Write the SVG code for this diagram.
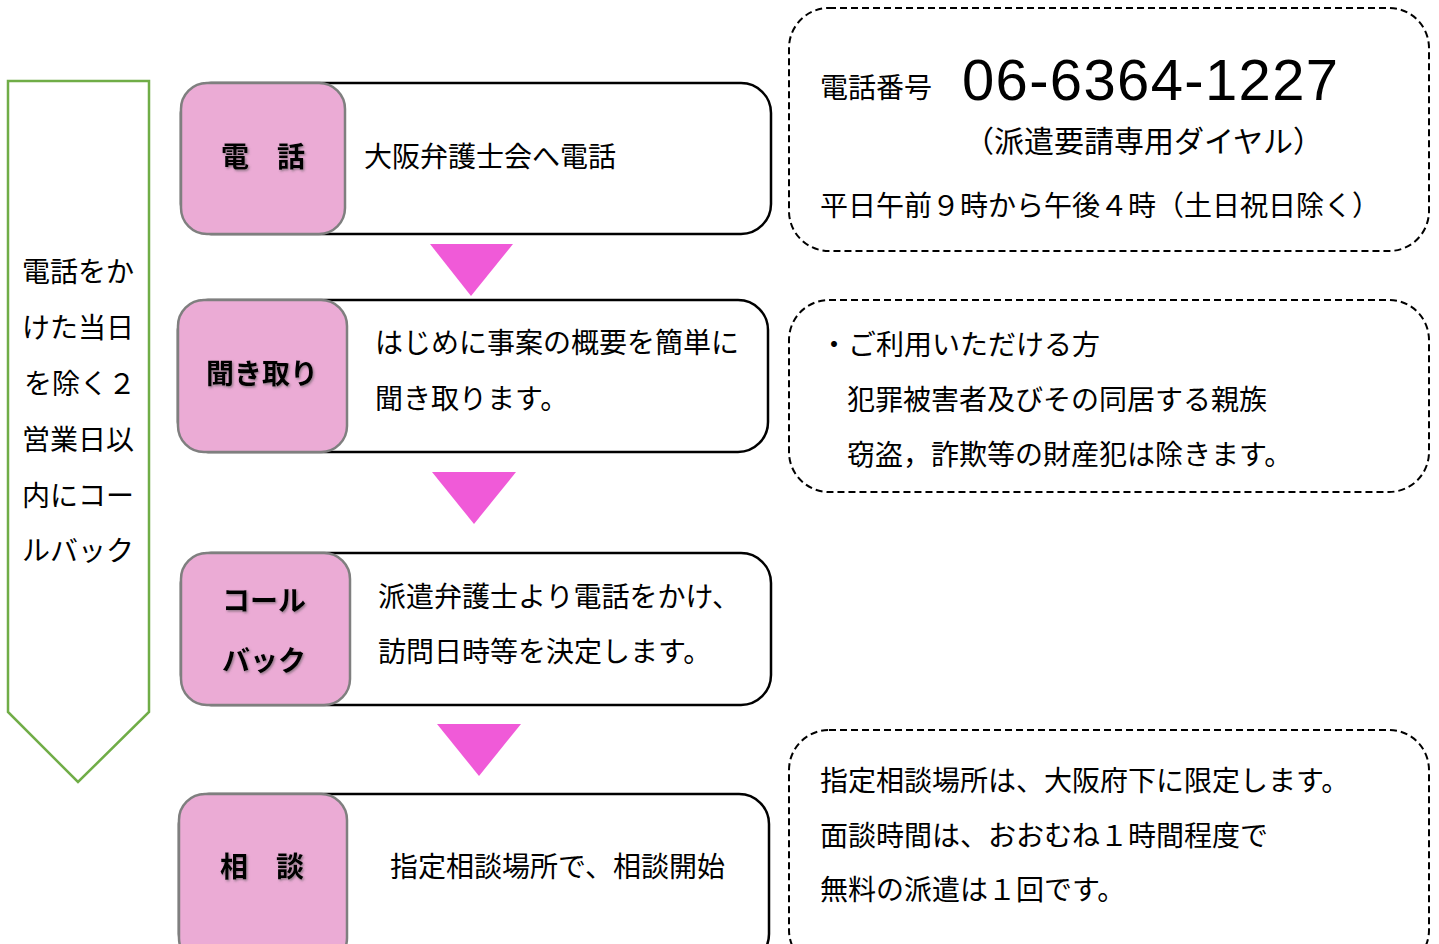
<svg xmlns="http://www.w3.org/2000/svg" width="1439" height="944" viewBox="0 0 1439 944">
<style>
text{font-family:"Noto Sans CJK JP","Noto Sans",sans-serif;fill:#000;}
.t{font-size:28px;}
.lbl{font-size:28px;font-weight:bold;text-anchor:middle;}
.outer{fill:#fff;stroke:#000;stroke-width:2.5;}
.pink{fill:#ebabd5;stroke:#7f7f7f;stroke-width:2.5;}
.dash{fill:#fff;stroke:#000;stroke-width:2;stroke-dasharray:7 4;}
.tri{fill:#f05ad8;}
</style>
<defs>
<filter id="sh" x="-10%" y="-10%" width="130%" height="130%">
<feDropShadow dx="1.2" dy="1.5" stdDeviation="0.8" flood-color="#555" flood-opacity="0.6"/>
</filter>
</defs>
<g id="side-arrow">
<polygon points="8,81 149,81 149,712 78,782 8,712" fill="#fff" stroke="#70ad47" stroke-width="2.5"/>
<text class="t" x="22" y="282">電話をか</text>
<text class="t" x="22" y="338">けた当日</text>
<text class="t" x="24" y="394">を除く２</text>
<text class="t" x="22" y="450">営業日以</text>
<text class="t" x="22" y="506">内にコー</text>
<text class="t" x="22" y="561">ルバック</text>
</g>
<g id="connectors">
<polygon class="tri" points="430,244 513,244 471,296"/>
<polygon class="tri" points="432,472 516,472 474,524"/>
<polygon class="tri" points="437,724 521,724 479,776"/>
</g>
<g id="step1">
<rect class="outer" x="181" y="83" width="590" height="151" rx="30"/>
<rect class="pink" x="181" y="83" width="164" height="151" rx="26"/>
<text class="lbl" x="263" y="167" filter="url(#sh)">電　話</text>
<text class="t" x="364" y="167">大阪弁護士会へ電話</text>
</g>
<g id="step2">
<rect class="outer" x="178" y="300" width="590" height="152" rx="30"/>
<rect class="pink" x="178" y="300" width="169" height="152" rx="26"/>
<text class="lbl" x="262" y="384" filter="url(#sh)">聞き取り</text>
<text class="t" x="375" y="353">はじめに事案の概要を簡単に</text>
<text class="t" x="375" y="409">聞き取ります。</text>
</g>
<g id="step3">
<rect class="outer" x="181" y="553" width="590" height="152" rx="30"/>
<rect class="pink" x="181" y="553" width="169" height="152" rx="26"/>
<text class="lbl" x="264" y="611" filter="url(#sh)">コール</text>
<text class="lbl" x="264" y="671" filter="url(#sh)">バック</text>
<text class="t" x="378" y="607">派遣弁護士より電話をかけ、</text>
<text class="t" x="378" y="662">訪問日時等を決定します。</text>
</g>
<g id="step4">
<rect class="outer" x="179" y="794" width="590" height="170" rx="30"/>
<rect class="pink" x="179" y="794" width="168" height="170" rx="26"/>
<text class="lbl" x="262" y="877" filter="url(#sh)">相　談</text>
<text class="t" x="390" y="877">指定相談場所で、相談開始</text>
</g>
<g id="note-phone">
<rect class="dash" x="789" y="8" width="640" height="243" rx="40"/>
<text class="t" x="820" y="98">電話番号</text>
<text x="962" y="100" style="font-family:'Liberation Sans',sans-serif;font-size:58px;" textLength="376">06-6364-1227</text>
<text class="t" x="964" y="152" style="font-size:30px">（派遣要請専用ダイヤル）</text>
<text class="t" x="820" y="216">平日午前９時から午後４時（土日祝日除く）</text>
</g>
<g id="note-eligible">
<rect class="dash" x="789" y="300" width="640" height="192" rx="40"/>
<text class="t" x="820" y="355">・ご利用いただける方</text>
<text class="t" x="847" y="410">犯罪被害者及びその同居する親族</text>
<text class="t" x="847" y="465">窃盗，詐欺等の財産犯は除きます。</text>
</g>
<g id="note-consult">
<rect class="dash" x="789" y="730" width="640" height="240" rx="40"/>
<text class="t" x="820" y="791">指定相談場所は、大阪府下に限定します。</text>
<text class="t" x="820" y="846">面談時間は、おおむね１時間程度で</text>
<text class="t" x="820" y="900">無料の派遣は１回です。</text>
</g>
</svg>
